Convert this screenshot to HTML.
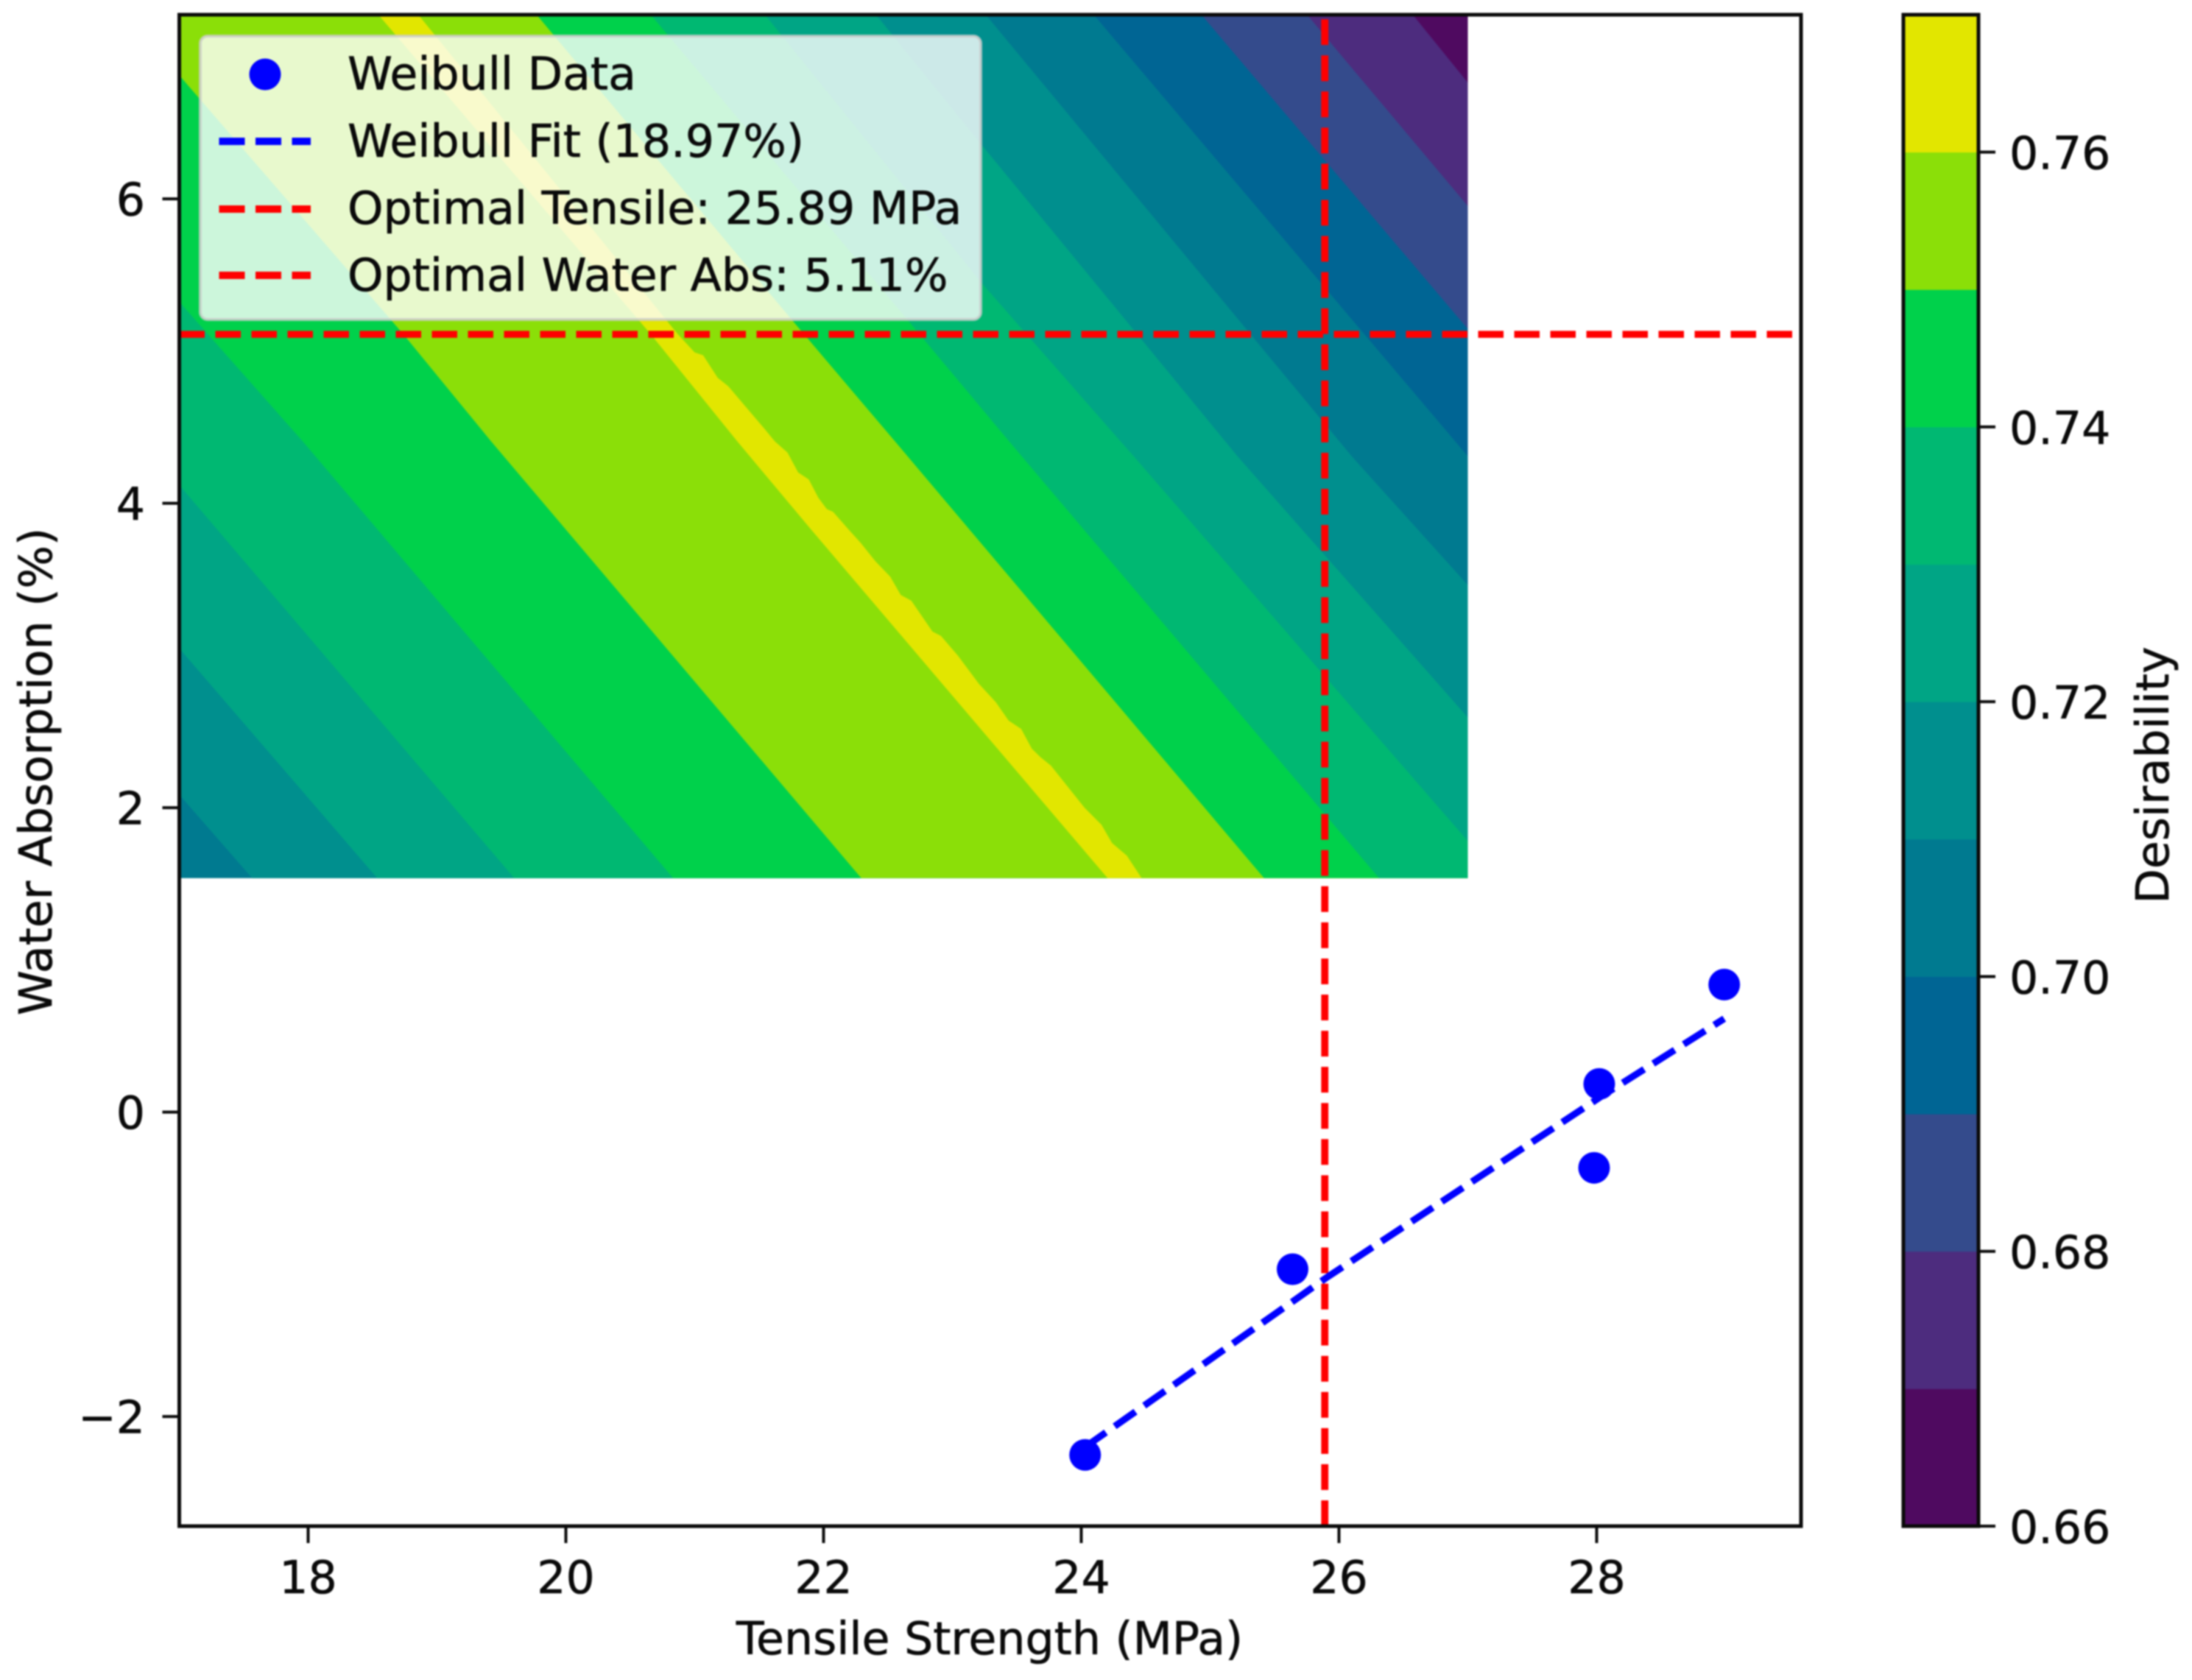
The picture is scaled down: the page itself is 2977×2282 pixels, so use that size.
<!DOCTYPE html>
<html lang="en">
<head>
<meta charset="utf-8">
<title>Desirability contour with Weibull fit</title>
<style>
html,body{margin:0;padding:0;background:#fff;}
svg{display:block;filter:blur(1px);}
text{font-family:"DejaVu Sans","Liberation Sans",sans-serif;font-size:61.7px;fill:#0a0a0a;stroke:#0a0a0a;stroke-width:0.6px;}
</style>
</head>
<body>
<svg id="chart" xmlns="http://www.w3.org/2000/svg" width="2977" height="2282" viewBox="0 0 2977 2282">
  <rect x="0" y="0" width="2977" height="2282" fill="#ffffff"/>
  <defs>
    <clipPath id="contour-clip"><rect id="contour-clip-rect"/></clipPath>
    <clipPath id="axes-clip"><rect id="axes-clip-rect"/></clipPath>
  </defs>
  <g id="contour-layer" clip-path="url(#contour-clip)"></g>
  <g id="series-layer" clip-path="url(#axes-clip)"></g>
  <g id="axes-layer"></g>
  <g id="colorbar-layer"></g>

  <text x="1344" y="2247" text-anchor="middle">Tensile Strength (MPa)</text>
  <text transform="translate(70,1048) rotate(-90)" text-anchor="middle">Water Absorption (%)</text>
  <text transform="translate(2945,1053) rotate(-90)" text-anchor="middle">Desirability</text>

  <g>
    <rect x="272" y="49" width="1060" height="385" rx="10" ry="10" fill="#ffffff" fill-opacity="0.8" stroke="#cccccc" stroke-opacity="0.8" stroke-width="4"/>
    <circle cx="360" cy="101" r="21.5" fill="#0000ff"/>
    <line x1="297.5" y1="192" x2="422" y2="192" stroke="#0000ff" stroke-width="10" stroke-dasharray="35 14.5"/>
    <line x1="297.5" y1="284" x2="422" y2="284" stroke="#ff0000" stroke-width="10" stroke-dasharray="35 14.5"/>
    <line x1="297.5" y1="374" x2="422" y2="374" stroke="#ff0000" stroke-width="10" stroke-dasharray="35 14.5"/>
    <text x="472" y="121.5">Weibull Data</text>
    <text x="472" y="213">Weibull Fit (18.97%)</text>
    <text x="472" y="304">Optimal Tensile: 25.89 MPa</text>
    <text x="472" y="395">Optimal Water Abs: 5.11%</text>
  </g>
</svg>

<script>
// ---------- data ----------
const xTicks = [18, 20, 22, 24, 26, 28];
const yTicks = [-2, 0, 2, 4, 6];
const colorbarTicks = [0.66, 0.68, 0.70, 0.72, 0.74, 0.76];
const colorbarLevels = [0.66, 0.67, 0.68, 0.69, 0.70, 0.71, 0.72, 0.73, 0.74, 0.75, 0.76, 0.77];

const weibullX = [24.03, 25.64, 27.98, 28.02, 28.99];
const weibullY = [-2.252, -1.032, -0.366, 0.185, 0.838];
const fitX = [24.03, 25.64, 25.9, 27.98, 28.02, 28.99];
const fitY = [-2.2, -1.245, -1.089, 0.072, 0.095, 0.614];
const optimalTensile = [25.89];
const optimalWater = [5.11];

const contourExtentX = [17, 27];
const contourExtentY = [1.537, 7.21];

// contour boundaries in data units [tensile, water], left of the ridge
const edgeLow071 = [[17, 2.086], [17.566, 1.537]];
const edgeLow072 = [[17, 3.047], [18.537, 1.537]];
const edgeLow073 = [[17, 4.12], [19.6, 1.537]];
const edgeLow074 = [[17, 5.324], [17.96, 4.405], [20.833, 1.537]];
const edgeLow075 = [[17, 6.812], [18.739, 5.111], [19.422, 4.405], [22.293, 1.537]];
const edgeLow076 = [[18.545, 7.21], [20.659, 5.111], [21.332, 4.405], [21.899, 3.832], [24.205, 1.537]];
// right of the ridge
const edgeHigh076 = [[18.855, 7.21], [20.868, 5.112], [21.0, 4.991], [21.065, 4.973], [21.179, 4.824], [21.261, 4.769], [21.409, 4.621], [21.54, 4.491], [21.622, 4.407], [21.72, 4.333], [21.803, 4.203], [21.885, 4.157], [21.96, 4.036], [22.025, 3.962], [22.074, 3.944], [22.189, 3.833], [22.288, 3.74], [22.402, 3.62], [22.517, 3.518], [22.599, 3.398], [22.681, 3.36], [22.763, 3.259], [22.845, 3.157], [22.911, 3.129], [23.042, 3.0], [23.206, 2.814], [23.337, 2.694], [23.436, 2.573], [23.534, 2.518], [23.616, 2.388], [23.682, 2.333], [23.764, 2.277], [24.026, 2.0], [24.157, 1.888], [24.239, 1.768], [24.354, 1.685], [24.469, 1.537]];
const edgeHigh075 = [[19.773, 7.21], [21.756, 5.203], [22.556, 4.405], [25.419, 1.537]];
const edgeHigh074 = [[20.659, 7.21], [22.654, 5.203], [23.442, 4.405], [26.311, 1.537]];
const edgeHigh073 = [[21.545, 7.21], [23.224, 5.45], [24.407, 4.309], [27, 1.781]];
const edgeHigh072 = [[22.407, 7.21], [23.224, 6.358], [25.213, 4.309], [27, 2.593]];
const edgeHigh071 = [[23.259, 7.21], [26.099, 4.309], [27, 3.463]];
const edgeHigh070 = [[24.097, 7.21], [27, 4.309]];
const edgeHigh069 = [[24.933, 7.21], [27, 5.145]];
const edgeHigh068 = [[25.753, 7.21], [27, 5.953]];
const edgeHigh067 = [[26.573, 7.21], [27, 6.764]];

// band index (into colorbarLevels) that fills the region up and right of each edge
const contourEdges = [edgeLow071, edgeLow072, edgeLow073, edgeLow074, edgeLow075, edgeLow076, edgeHigh076, edgeHigh075, edgeHigh074, edgeHigh073, edgeHigh072, edgeHigh071, edgeHigh070, edgeHigh069, edgeHigh068, edgeHigh067];
const contourEdgeBands = [5, 6, 7, 8, 9, 10, 9, 8, 7, 6, 5, 4, 3, 2, 1, 0];
const contourBaseBand = [4];

// ---------- styling / layout ----------
const bandColors = ['#4f0a60', '#4d2c7e', '#344b8c', '#006594', '#007a90', '#008f8e', '#00a585', '#00b872', '#00d14b', '#8bdf08', '#e2e600'];
const plotBox = {left: 243.5, right: 2446, top: 20, bottom: 2073};
const barBox = {left: 2585, right: 2687, top: 20, bottom: 2073};
const xDomain = [17, 29.586];
const yDomain = [-2.72, 7.21];
const inkColor = '#0a0a0a';

const xScale = v => plotBox.left + (v - xDomain[0]) / (xDomain[1] - xDomain[0]) * (plotBox.right - plotBox.left);
const yScale = v => plotBox.bottom - (v - yDomain[0]) / (yDomain[1] - yDomain[0]) * (plotBox.bottom - plotBox.top);
const barScale = v => barBox.bottom - (v - colorbarLevels[0]) / (colorbarLevels[colorbarLevels.length - 1] - colorbarLevels[0]) * (barBox.bottom - barBox.top);

const NS = 'http://www.w3.org/2000/svg';
function mk(tag, parent, props) {
  const el = document.createElementNS(NS, tag);
  for (const k in props) el.setAttribute(k, props[k]);
  parent.appendChild(el);
  return el;
}
const fmtLabel = v => String(v).replace('-', '\u2212');

// ---------- clip regions ----------
const contourClip = document.getElementById('contour-clip-rect');
contourClip.setAttribute('x', xScale(contourExtentX[0]));
contourClip.setAttribute('y', yScale(contourExtentY[1]));
contourClip.setAttribute('width', xScale(contourExtentX[1]) - xScale(contourExtentX[0]));
contourClip.setAttribute('height', yScale(contourExtentY[0]) - yScale(contourExtentY[1]));
const axesClip = document.getElementById('axes-clip-rect');
axesClip.setAttribute('x', plotBox.left);
axesClip.setAttribute('y', plotBox.top);
axesClip.setAttribute('width', plotBox.right - plotBox.left);
axesClip.setAttribute('height', plotBox.bottom - plotBox.top);

// ---------- contours ----------
const contourLayer = document.getElementById('contour-layer');
const contourBase = mk('rect', contourLayer, {
  x: xScale(contourExtentX[0]), y: yScale(contourExtentY[1]),
  width: xScale(contourExtentX[1]) - xScale(contourExtentX[0]),
  height: yScale(contourExtentY[0]) - yScale(contourExtentY[1]),
  fill: bandColors[contourBaseBand[0]]
});



contourEdges.forEach((edge, i) => {
  const first = edge[0];
  const last = edge[edge.length - 1];
  const ring = edge.concat([
    [contourExtentX[1], last[1]],
    [contourExtentX[1], contourExtentY[1]],
    [first[0], contourExtentY[1]]
  ]);
  const band = contourEdgeBands[i];
  const poly = mk('polygon', contourLayer, {
    points: ring.map(p => xScale(p[0]).toFixed(1) + ',' + yScale(p[1]).toFixed(1)).join(' '),
    fill: bandColors[band]
  });
  
  
});

// ---------- series ----------
const seriesLayer = document.getElementById('series-layer');

const vLine = mk('line', seriesLayer, {
  x1: xScale(optimalTensile[0]), x2: xScale(optimalTensile[0]),
  y1: plotBox.bottom, y2: plotBox.top,
  stroke: '#ff0000', 'stroke-width': 9.8, 'stroke-dasharray': '35 14.07'
});



const hLine = mk('line', seriesLayer, {
  x1: plotBox.left, x2: plotBox.right,
  y1: yScale(optimalWater[0]), y2: yScale(optimalWater[0]),
  stroke: '#ff0000', 'stroke-width': 9.5, 'stroke-dasharray': '34.5 14.5'
});



const fitLine = mk('polyline', seriesLayer, {
  points: fitX.map((x, i) => xScale(x).toFixed(1) + ',' + yScale(fitY[i]).toFixed(1)).join(' '),
  fill: 'none', stroke: '#0000ff', 'stroke-width': 9.3, 'stroke-dasharray': '34.5 14.5'
});



weibullX.forEach((x, i) => {
  const dot = mk('circle', seriesLayer, {
    cx: xScale(x), cy: yScale(weibullY[i]), r: 21.5, fill: '#0000ff'
  });
  
  
});

// ---------- axes ----------
const axesLayer = document.getElementById('axes-layer');
xTicks.forEach(v => {
  const px = xScale(v);
  const tick = mk('line', axesLayer, {x1: px, x2: px, y1: plotBox.bottom, y2: plotBox.bottom + 23, stroke: inkColor, 'stroke-width': 4});
  
  
  const label = mk('text', axesLayer, {x: px, y: 2164, 'text-anchor': 'middle'});
  label.textContent = fmtLabel(v);
  
  
});
yTicks.forEach(v => {
  const py = yScale(v);
  const tick = mk('line', axesLayer, {x1: plotBox.left, x2: plotBox.left - 23, y1: py, y2: py, stroke: inkColor, 'stroke-width': 4});
  
  
  const label = mk('text', axesLayer, {x: 197, y: py + 22.5, 'text-anchor': 'end'});
  label.textContent = fmtLabel(v);
  
  
});
const plotFrame = mk('rect', axesLayer, {
  x: plotBox.left, y: plotBox.top,
  width: plotBox.right - plotBox.left, height: plotBox.bottom - plotBox.top,
  fill: 'none', stroke: inkColor, 'stroke-width': 5
});



// ---------- colorbar ----------
const colorbarLayer = document.getElementById('colorbar-layer');
bandColors.forEach((color, i) => {
  const seg = mk('rect', colorbarLayer, {
    x: barBox.left, y: barScale(colorbarLevels[i + 1]),
    width: barBox.right - barBox.left,
    height: barScale(colorbarLevels[i]) - barScale(colorbarLevels[i + 1]) + 0.5,
    fill: color
  });
  
  
});
colorbarTicks.forEach(v => {
  const py = barScale(v);
  const tick = mk('line', colorbarLayer, {x1: barBox.right, x2: barBox.right + 23, y1: py, y2: py, stroke: inkColor, 'stroke-width': 4});
  
  
  const label = mk('text', colorbarLayer, {x: 2729, y: py + 23});
  label.textContent = v.toFixed(2);
  
  
});
const barFrame = mk('rect', colorbarLayer, {
  x: barBox.left, y: barBox.top,
  width: barBox.right - barBox.left, height: barBox.bottom - barBox.top,
  fill: 'none', stroke: inkColor, 'stroke-width': 5
});


</script>
</body>
</html>
